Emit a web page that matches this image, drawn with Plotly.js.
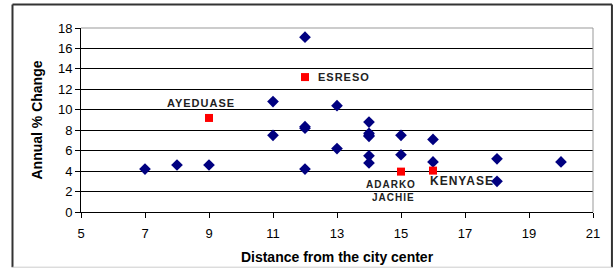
<!DOCTYPE html>
<html>
<head>
<meta charset="utf-8">
<script src="https://cdn.plot.ly/plotly-3.0.1.min.js"></script>
<style>
html,body{margin:0;padding:0;background:#fff;}
#chart{width:614px;height:269px;}
.annotation-text{letter-spacing:1px;}
</style>
</head>
<body>
<div id="chart"></div>
<script>
// Blue diamond series: distance vs annual % change
const distance = [7, 8, 9, 11, 11, 12, 12, 12, 12, 13, 13, 14, 14, 14, 14, 14, 14, 15, 15, 16, 16, 18, 18, 20];
const annualChange = [4.2, 4.6, 4.6, 10.8, 7.5, 17.1, 8.35, 8.2, 4.2, 10.4, 6.2, 8.8, 7.7, 7.5, 7.4, 5.5, 4.8, 7.5, 5.6, 7.1, 4.9, 5.2, 3.0, 4.9];

// Highlighted towns (red squares)
const townNames = ["AYEDUASE", "ESRESO", "ADARKO JACHIE", "KENYASE"];
const townDistance = [9, 12, 15, 16];
const townChange = [9.2, 13.2, 3.95, 4.05];

// Label positions (data coordinates)
const labelText = ["AYEDUASE", "ESRESO", "ADARKO", "JACHIE", "KENYASE"];
const labelX = [8.75, 12.33, 14.69, 14.76, 16.9];
const labelY = [10.7, 13.2, 2.72, 1.4, 3.07];
const labelAnchor = ["center", "left", "center", "center", "center"];
const labelSize = [11, 11, 10, 10, 12];

const xTicks = [5, 7, 9, 11, 13, 15, 17, 19, 21];
const yTicks = [0, 2, 4, 6, 8, 10, 12, 14, 16, 18];

const traces = [
  {
    x: distance, y: annualChange, type: "scatter", mode: "markers",
    marker: {symbol: "diamond", size: 9, color: "#000080"},
    hoverinfo: "x+y", cliponaxis: false
  },
  {
    x: townDistance, y: townChange, text: townNames, type: "scatter", mode: "markers",
    marker: {symbol: "square", size: 8, color: "#ff0000"},
    cliponaxis: false
  }
];

const annotations = labelText.map((t, i) => ({
  x: labelX[i], y: labelY[i], xref: "x", yref: "y", text: "<b>" + t + "</b>", showarrow: false,
  xanchor: labelAnchor[i], yanchor: "middle",
  font: {family: "Liberation Sans, Arial, sans-serif", size: labelSize[i], color: "#222"}
}));

const shapes = [
  // plot area top and right edge (gray)
  {type: "line", xref: "paper", yref: "paper", x0: 0, x1: 1, y0: 1, y1: 1, line: {color: "#999", width: 1}},
  {type: "line", xref: "paper", yref: "paper", x0: 1, x1: 1, y0: 0, y1: 1, line: {color: "#999", width: 1}},
  // outer chart frame
  {type: "line", xref: "paper", yref: "paper", x0: -0.1338, x1: 1.037, y0: 1.1277, y1: 1.1277, line: {color: "#333", width: 2}},
  {type: "line", xref: "paper", yref: "paper", x0: -0.1338, x1: -0.1338, y0: -0.30, y1: 1.1277, line: {color: "#333", width: 2}},
  {type: "line", xref: "paper", yref: "paper", x0: 1.037, x1: 1.037, y0: -0.30, y1: 1.1277, line: {color: "#333", width: 2}},
  {type: "line", xref: "paper", yref: "paper", x0: -0.1338, x1: 1.037, y0: -0.30, y1: -0.30, line: {color: "#ccc", width: 1}}
];

const layout = {
  width: 614, height: 269,
  margin: {l: 81, r: 21, t: 28, b: 57},
  paper_bgcolor: "#fff", plot_bgcolor: "#fff",
  showlegend: false,
  font: {family: "Liberation Sans, Arial, sans-serif", size: 12, color: "#000"},
  xaxis: {
    range: [5, 21], tickvals: xTicks, ticktext: xTicks.map(String),
    showgrid: false, zeroline: false,
    showline: true, linecolor: "#000", linewidth: 1,
    ticks: "outside", ticklen: 5, tickcolor: "#000",
    ticklabelstandoff: 4,
    tickfont: {size: 13},
    title: {text: "<b>Distance from the city center</b>", font: {size: 14}, standoff: 12}
  },
  yaxis: {
    range: [0, 18], tickvals: yTicks, ticktext: yTicks.map(String),
    showgrid: true, gridcolor: "#000", gridwidth: 1,
    zeroline: false,
    showline: true, linecolor: "#000", linewidth: 1,
    ticks: "outside", ticklen: 5, tickcolor: "#000",
    tickfont: {size: 13},
    title: {text: "<b>Annual % Change</b>", font: {size: 14}, standoff: 12}
  },
  annotations: annotations,
  shapes: shapes
};

Plotly.newPlot("chart", traces, layout, {staticPlot: true, displayModeBar: false});
</script>
</body>
</html>
